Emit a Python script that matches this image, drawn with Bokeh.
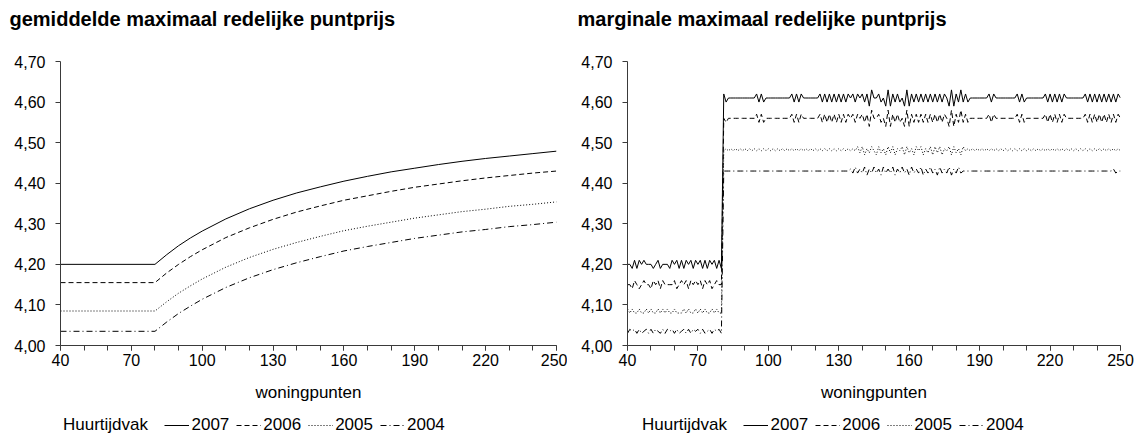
from bokeh.plotting import figure
from bokeh.layouts import row, column
from bokeh.models import (FixedTicker, CustomJSTickFormatter, Range1d, Legend,
                          LegendItem)
from bokeh.embed import file_html
from bokeh.resources import INLINE

FONT = "Liberation Sans"
NAN = float("nan")

# ---------------- data ----------------
titles = ["gemiddelde maximaal redelijke puntprijs",
          "marginale maximaal redelijke puntprijs"]
years = ["2007", "2006", "2005", "2004"]
legend_title = "Huurtijdvak"
x_label = "woningpunten"
x_ticks = [40, 70, 100, 130, 160, 190, 220, 250]
y_ticks = [4.0, 4.1, 4.2, 4.3, 4.4, 4.5, 4.6, 4.7]

# average (gemiddelde) max. redelijke puntprijs
avg_x = [40, 80, 85, 90, 95, 100, 110, 120, 130, 140, 150, 160, 170, 180,
         190, 200, 210, 220, 230, 240, 250]
avg2007 = [4.200, 4.200, 4.224, 4.246, 4.265, 4.282, 4.312, 4.337, 4.358, 4.376, 4.391,
           4.405, 4.417, 4.428, 4.437, 4.446, 4.454, 4.461, 4.467, 4.473, 4.479]
avg2006 = [4.155, 4.155, 4.179, 4.200, 4.219, 4.236, 4.266, 4.290, 4.311, 4.329, 4.344,
           4.358, 4.369, 4.380, 4.390, 4.398, 4.406, 4.413, 4.419, 4.425, 4.430]
avg2005 = [4.085, 4.085, 4.108, 4.129, 4.147, 4.164, 4.193, 4.217, 4.237, 4.254, 4.269,
           4.283, 4.294, 4.304, 4.314, 4.322, 4.330, 4.336, 4.343, 4.348, 4.354]
avg2004 = [4.035, 4.035, 4.058, 4.079, 4.097, 4.114, 4.143, 4.167, 4.187, 4.204, 4.219,
           4.233, 4.244, 4.254, 4.264, 4.272, 4.280, 4.286, 4.293, 4.298, 4.304]

# marginal max. redelijke puntprijs, woningpunten 40..250
marg_x = list(range(40, 251))
marg2007 = [
    4.20, 4.20, 4.19, 4.21, 4.19, 4.21, 4.20, 4.21, 4.20, 4.20,  # 40
    4.20, 4.19, 4.20, 4.21, 4.19, 4.20, 4.20, 4.20, 4.19, 4.21,  # 50
    4.20, 4.21, 4.19, 4.21, 4.19, 4.21, 4.20, 4.21, 4.19, 4.21,  # 60
    4.20, 4.21, 4.19, 4.21, 4.19, 4.21, 4.20, 4.21, 4.19, 4.21,  # 70
    4.19, 4.62, 4.60, 4.61, 4.61, 4.61, 4.61, 4.61, 4.61, 4.61,  # 80
    4.61, 4.61, 4.61, 4.61, 4.61, 4.62, 4.60, 4.62, 4.60, 4.61,  # 90
    4.61, 4.61, 4.61, 4.61, 4.61, 4.61, 4.61, 4.61, 4.61, 4.61,  # 100
    4.62, 4.60, 4.62, 4.60, 4.62, 4.61, 4.61, 4.61, 4.61, 4.61,  # 110
    4.61, 4.61, 4.62, 4.60, 4.62, 4.60, 4.62, 4.60, 4.62, 4.60,  # 120
    4.62, 4.60, 4.62, 4.60, 4.62, 4.61, 4.62, 4.60, 4.62, 4.61,  # 130
    4.62, 4.60, 4.62, 4.59, 4.63, 4.61, 4.61, 4.62, 4.60, 4.61,  # 140
    4.59, 4.63, 4.59, 4.62, 4.60, 4.62, 4.60, 4.61, 4.59, 4.63,  # 150
    4.59, 4.62, 4.60, 4.62, 4.60, 4.62, 4.60, 4.62, 4.60, 4.62,  # 160
    4.60, 4.62, 4.60, 4.62, 4.60, 4.62, 4.61, 4.59, 4.63, 4.59,  # 170
    4.62, 4.60, 4.63, 4.60, 4.62, 4.60, 4.61, 4.61, 4.61, 4.61,  # 180
    4.61, 4.61, 4.61, 4.61, 4.62, 4.60, 4.62, 4.61, 4.61, 4.61,  # 190
    4.61, 4.61, 4.61, 4.61, 4.61, 4.61, 4.62, 4.60, 4.62, 4.60,  # 200
    4.61, 4.61, 4.61, 4.61, 4.61, 4.61, 4.61, 4.61, 4.62, 4.60,  # 210
    4.62, 4.60, 4.62, 4.60, 4.62, 4.60, 4.62, 4.61, 4.61, 4.61,  # 220
    4.61, 4.61, 4.61, 4.61, 4.61, 4.62, 4.60, 4.62, 4.60, 4.62,  # 230
    4.60, 4.62, 4.60, 4.62, 4.60, 4.62, 4.60, 4.62, 4.60, 4.62,  # 240
    4.61]                                                        # 250
marg2006 = [
    4.15, 4.15, 4.14, 4.16, 4.15, 4.14, 4.15, 4.16, 4.15, 4.15,  # 40
    4.14, 4.16, 4.15, 4.16, 4.14, 4.16, 4.15, 4.15, 4.15, 4.15,  # 50
    4.16, 4.14, 4.15, 4.16, 4.15, 4.16, 4.14, 4.16, 4.15, 4.16,  # 60
    4.15, 4.16, 4.14, 4.16, 4.15, 4.16, 4.14, 4.15, 4.16, 4.15,  # 70
    4.15, 4.56, 4.55, 4.56, 4.56, 4.56, 4.56, 4.56, 4.56, 4.56,  # 80
    4.56, 4.56, 4.56, 4.56, 4.56, 4.57, 4.55, 4.57, 4.55, 4.56,  # 90
    4.56, 4.56, 4.56, 4.56, 4.56, 4.56, 4.56, 4.56, 4.56, 4.56,  # 100
    4.57, 4.55, 4.57, 4.55, 4.57, 4.56, 4.56, 4.56, 4.56, 4.56,  # 110
    4.56, 4.56, 4.57, 4.55, 4.57, 4.55, 4.57, 4.55, 4.57, 4.55,  # 120
    4.57, 4.55, 4.57, 4.55, 4.57, 4.56, 4.57, 4.55, 4.57, 4.56,  # 130
    4.57, 4.55, 4.57, 4.54, 4.58, 4.56, 4.56, 4.57, 4.55, 4.56,  # 140
    4.54, 4.58, 4.54, 4.57, 4.55, 4.57, 4.55, 4.56, 4.54, 4.58,  # 150
    4.54, 4.57, 4.55, 4.57, 4.55, 4.57, 4.55, 4.57, 4.55, 4.57,  # 160
    4.55, 4.57, 4.55, 4.57, 4.55, 4.57, 4.56, 4.54, 4.58, 4.54,  # 170
    4.57, 4.55, 4.58, 4.55, 4.57, 4.55, 4.56, 4.56, 4.56, 4.56,  # 180
    4.56, 4.56, 4.56, 4.56, 4.57, 4.55, 4.57, 4.56, 4.56, 4.56,  # 190
    4.56, 4.56, 4.56, 4.56, 4.56, 4.56, 4.57, 4.55, 4.57, 4.55,  # 200
    4.56, 4.56, 4.56, 4.56, 4.56, 4.56, 4.56, 4.56, 4.57, 4.55,  # 210
    4.57, 4.55, 4.57, 4.55, 4.57, 4.55, 4.57, 4.56, 4.56, 4.56,  # 220
    4.56, 4.56, 4.56, 4.56, 4.56, 4.57, 4.55, 4.57, 4.55, 4.57,  # 230
    4.55, 4.57, 4.55, 4.57, 4.55, 4.57, 4.55, 4.57, 4.55, 4.57,  # 240
    4.56]                                                        # 250
marg2005 = [
    4.09, 4.08, 4.09, 4.08, 4.08, 4.09, 4.08, 4.08, 4.09, 4.08,  # 40
    4.09, 4.08, 4.08, 4.09, 4.08, 4.09, 4.08, 4.09, 4.08, 4.08,  # 50
    4.09, 4.08, 4.08, 4.08, 4.09, 4.08, 4.09, 4.08, 4.08, 4.09,  # 60
    4.08, 4.09, 4.08, 4.09, 4.08, 4.08, 4.09, 4.08, 4.09, 4.08,  # 70
    4.08, 4.48, 4.485, 4.48, 4.485, 4.48, 4.485, 4.48, 4.485, 4.48,  # 80
    4.485, 4.48, 4.485, 4.48, 4.485, 4.48, 4.485, 4.48, 4.485, 4.48,  # 90
    4.485, 4.48, 4.485, 4.48, 4.485, 4.48, 4.485, 4.48, 4.485, 4.48,  # 100
    4.485, 4.48, 4.485, 4.48, 4.485, 4.48, 4.485, 4.48, 4.485, 4.48,  # 110
    4.485, 4.48, 4.485, 4.48, 4.485, 4.48, 4.485, 4.48, 4.485, 4.48,  # 120
    4.485, 4.48, 4.485, 4.48, 4.485, 4.48, 4.485, 4.48, 4.49, 4.475,  # 130
    4.49, 4.47, 4.485, 4.475, 4.49, 4.48, 4.47, 4.49, 4.475, 4.485,  # 140
    4.47, 4.49, 4.475, 4.49, 4.47, 4.485, 4.48, 4.49, 4.47, 4.49,  # 150
    4.475, 4.485, 4.47, 4.49, 4.48, 4.49, 4.47, 4.485, 4.475, 4.49,  # 160
    4.47, 4.49, 4.475, 4.49, 4.47, 4.485, 4.48, 4.49, 4.47, 4.49,  # 170
    4.475, 4.485, 4.47, 4.49, 4.48, 4.485, 4.48, 4.485, 4.48, 4.485,  # 180
    4.48, 4.485, 4.48, 4.485, 4.48, 4.485, 4.48, 4.485, 4.48, 4.485,  # 190
    4.48, 4.485, 4.48, 4.485, 4.48, 4.485, 4.48, 4.485, 4.48, 4.485,  # 200
    4.48, 4.485, 4.48, 4.485, 4.48, 4.485, 4.48, 4.485, 4.48, 4.485,  # 210
    4.48, 4.485, 4.48, 4.485, 4.48, 4.485, 4.48, 4.485, 4.48, 4.485,  # 220
    4.48, 4.485, 4.48, 4.485, 4.48, 4.485, 4.48, 4.485, 4.48, 4.485,  # 230
    4.48, 4.485, 4.48, 4.485, 4.48, 4.485, 4.48, 4.485, 4.48, 4.485,  # 240
    4.48]                                                            # 250
marg2004 = [
    4.03, 4.04, 4.035, 4.04, 4.03, 4.04, 4.03, 4.035, 4.04, 4.03,  # 40
    4.04, 4.03, 4.04, 4.035, 4.03, 4.04, 4.03, 4.04, 4.035, 4.04,  # 50
    4.03, 4.04, 4.03, 4.035, 4.04, 4.03, 4.04, 4.03, 4.04, 4.035,  # 60
    4.04, 4.03, 4.04, 4.03, 4.035, 4.04, 4.03, 4.04, 4.035, 4.04,  # 70
    4.03, 4.43, 4.43, 4.43, 4.43, 4.43, 4.43, 4.43, 4.43, 4.43,  # 80
    4.43, 4.43, 4.43, 4.43, 4.43, 4.43, 4.43, 4.43, 4.43, 4.43,  # 90
    4.43, 4.43, 4.43, 4.43, 4.43, 4.43, 4.43, 4.43, 4.43, 4.43,  # 100
    4.43, 4.43, 4.43, 4.43, 4.43, 4.43, 4.43, 4.43, 4.43, 4.43,  # 110
    4.43, 4.43, 4.43, 4.43, 4.43, 4.43, 4.43, 4.43, 4.43, 4.43,  # 120
    4.43, 4.43, 4.43, 4.43, 4.43, 4.435, 4.425, 4.44, 4.425, 4.435,  # 130
    4.425, 4.44, 4.42, 4.435, 4.425, 4.44, 4.425, 4.435, 4.42, 4.44,  # 140
    4.425, 4.435, 4.425, 4.44, 4.42, 4.435, 4.425, 4.44, 4.425, 4.435,  # 150
    4.42, 4.44, 4.425, 4.435, 4.425, 4.44, 4.42, 4.435, 4.425, 4.44,  # 160
    4.425, 4.435, 4.42, 4.44, 4.425, 4.435, 4.425, 4.44, 4.42, 4.435,  # 170
    4.425, 4.44, 4.425, 4.43, 4.43, 4.43, 4.43, 4.43, 4.43, 4.43,  # 180
    4.43, 4.43, 4.43, 4.43, 4.43, 4.43, 4.43, 4.43, 4.43, 4.43,  # 190
    4.43, 4.43, 4.43, 4.43, 4.43, 4.43, 4.43, 4.43, 4.43, 4.43,  # 200
    4.43, 4.43, 4.43, 4.43, 4.43, 4.43, 4.43, 4.43, 4.43, 4.43,  # 210
    4.43, 4.43, 4.43, 4.43, 4.43, 4.43, 4.43, 4.43, 4.43, 4.43,  # 220
    4.43, 4.43, 4.43, 4.43, 4.43, 4.43, 4.43, 4.43, 4.43, 4.43,  # 230
    4.43, 4.43, 4.43, 4.43, 4.43, 4.43, 4.43, 4.435, 4.425, 4.43,  # 240
    4.43]                                                            # 250

dashes = ["solid", "5 3", "1 2", "6 3 1 3"]
AXIS_COLOR = "#3a3a3a"
HEADER_H = 48
LEGEND_H = 25
TOTAL_H = 437


def bare_fig(width, height):
    q = figure(width=width, height=height, output_backend="svg", toolbar_location=None,
               x_range=Range1d(0, 1), y_range=Range1d(0, 1),
               x_axis_type=None, y_axis_type=None, min_border=0)
    q.outline_line_color = None
    q.xgrid.visible = False
    q.ygrid.visible = False
    return q


def make_header(width, title, title_offset):
    h = bare_fig(width, HEADER_H)
    h.title.text = title
    h.title.text_font = FONT
    h.title.text_font_size = "20px"
    h.title.text_font_style = "bold"
    h.title.text_color = "black"
    h.title.offset = title_offset
    h.title.vertical_align = "top"
    h.title.standoff = 14
    return h


def make_fig(width, ml, mr, xs, series):
    p = figure(width=width, height=TOTAL_H - HEADER_H - LEGEND_H, title=None,
               output_backend="svg", toolbar_location=None,
               x_range=Range1d(40, 250), y_range=Range1d(4.0, 4.7),
               min_border_left=ml, min_border_right=mr,
               min_border_top=61 - HEADER_H, min_border_bottom=67)
    p.outline_line_color = None
    p.xgrid.visible = False
    p.ygrid.visible = False
    p.background_fill_color = "white"

    p.xaxis.ticker = FixedTicker(ticks=x_ticks, minor_ticks=list(range(40, 251, 10)))
    p.yaxis.ticker = FixedTicker(ticks=y_ticks, minor_ticks=[])
    p.yaxis.formatter = CustomJSTickFormatter(code="return tick.toFixed(2).replace('.', ',');")
    for ax in (p.xaxis[0], p.yaxis[0]):
        ax.axis_line_color = AXIS_COLOR
        ax.major_tick_line_color = AXIS_COLOR
        ax.minor_tick_line_color = AXIS_COLOR
        ax.major_tick_in = 0
        ax.major_tick_out = 5
        ax.minor_tick_in = 0
        ax.minor_tick_out = 5
        ax.major_label_text_font = FONT
        ax.major_label_text_font_size = "16px"
        ax.major_label_text_color = "black"
    p.yaxis.major_label_standoff = 10
    p.xaxis.major_label_standoff = 3
    p.xaxis.axis_label = x_label
    p.xaxis.axis_label_text_font = FONT
    p.xaxis.axis_label_text_font_size = "17px"
    p.xaxis.axis_label_text_font_style = "normal"
    p.xaxis.axis_label_text_color = "black"
    p.xaxis.axis_label_standoff = 14

    for ys, dash in zip(series, dashes):
        p.line(xs, ys, line_color="black", line_width=1, line_dash=dash)
    return p


def make_legend(width, x_offset):
    q = bare_fig(width, LEGEND_H)
    # legend proxies (no visible data; only their line style is shown in the key)
    blank = q.line([NAN], [NAN], line_alpha=0)
    items = [LegendItem(label=legend_title + "\u00a0\u00a0", renderers=[blank])]
    for yr, dash in zip(years, dashes):
        r = q.line([NAN], [NAN], line_color="black", line_width=1, line_dash=dash)
        items.append(LegendItem(label=yr, renderers=[r]))
    leg = Legend(items=items, orientation="horizontal", location=(x_offset, 2))
    leg.label_text_font = FONT
    leg.label_text_font_size = "17px"
    leg.label_text_color = "black"
    leg.glyph_width = 25
    leg.glyph_height = 12
    leg.label_standoff = 2
    leg.spacing = 7
    leg.padding = 0
    leg.margin = 0
    leg.border_line_alpha = 0
    leg.background_fill_alpha = 0
    q.add_layout(leg, "center")
    return q


h1 = make_header(567, titles[0], -51)
h2 = make_header(568, titles[1], -50)
p1 = make_fig(567, 60, 11, avg_x, [avg2007, avg2006, avg2005, avg2004])
p2 = make_fig(568, 60, 15, marg_x, [marg2007, marg2006, marg2005, marg2004])
l1 = make_legend(567, -24)
l2 = make_legend(568, -12)

layout = row(column(h1, p1, l1), column(h2, p2, l2))
open("out.html", "w").write(file_html(layout, INLINE))
